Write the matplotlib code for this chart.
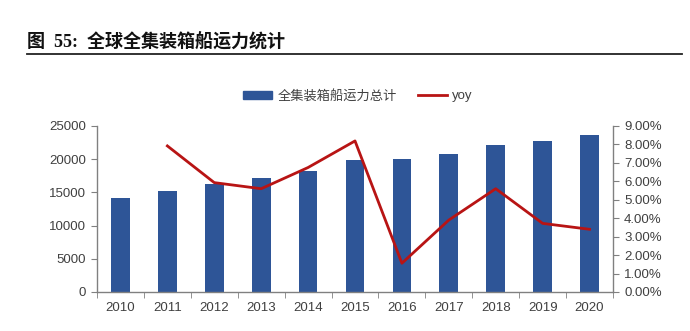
import matplotlib.pyplot as plt
from matplotlib.ticker import FuncFormatter, MultipleLocator
from matplotlib.lines import Line2D
from matplotlib.patches import Patch

# 数据
years = ['2010', '2011', '2012', '2013', '2014', '2015', '2016', '2017', '2018', '2019', '2020']
capacity = [14100, 15250, 16250, 17100, 18250, 19830, 20080, 20830, 22080, 22800, 23700]
yoy = [None, 7.92, 5.93, 5.60, 6.75, 8.19, 1.56, 3.90, 5.60, 3.72, 3.40]

bar_color = '#2E5597'
line_color = '#B81414'
txt_color = '#404040'
spine_color = '#808080'

plt.rcParams['font.family'] = ['Liberation Sans', 'Noto Sans CJK SC']

fig = plt.figure(figsize=(6.9, 3.31), dpi=100)
ax = fig.add_axes([97 / 690, 39 / 331, 516 / 690, 166 / 331])
ax2 = ax.twinx()

x = list(range(len(years)))
ax.bar(x, capacity, width=0.4, color=bar_color, zorder=2)
ax.set_xlim(-0.5, len(years) - 0.5)
ax.set_ylim(0, 25000)
ax.yaxis.set_major_locator(MultipleLocator(5000))

xs = [i for i, v in zip(x, yoy) if v is not None]
ys = [v for v in yoy if v is not None]
ax2.plot(xs, ys, color=line_color, lw=2.0, zorder=3)
ax2.set_ylim(0, 9)
ax2.yaxis.set_major_locator(MultipleLocator(1))
ax2.yaxis.set_major_formatter(FuncFormatter(lambda v, p: f'{v:.2f}%'))

ax.set_xticks(x)
ax.set_xticklabels(years)
ax.set_xticks([i - 0.5 for i in range(len(years) + 1)], minor=True)
ax.tick_params(axis='x', which='major', length=0, pad=7)
ax.tick_params(axis='x', which='minor', length=4, color=spine_color)

for a in (ax, ax2):
    for s in a.spines.values():
        s.set_visible(False)
    a.tick_params(axis='both', labelsize=9.5, labelcolor=txt_color, color=spine_color)
ax.spines['left'].set_visible(True)
ax.spines['bottom'].set_visible(True)
ax2.spines['right'].set_visible(True)
for s in (ax.spines['left'], ax.spines['bottom'], ax2.spines['right']):
    s.set_color(spine_color)
    s.set_linewidth(1)
ax.tick_params(axis='y', length=4, pad=4)
ax2.tick_params(axis='y', length=4, pad=4)

handles = [Patch(color=bar_color), Line2D([0], [0], color=line_color, lw=2)]
fig.legend(handles, ['全集装箱船运力总计', 'yoy'], loc='center', bbox_to_anchor=(358 / 690, 1 - 96 / 331),
           ncol=2, frameon=False, fontsize=9.5, handlelength=2.2, handleheight=0.5,
           columnspacing=1.6, handletextpad=0.4, labelcolor=txt_color)

# 标题
fig.text(27 / 690, 1 - 42 / 331, '图  55:  全球全集装箱船运力统计', fontsize=13, fontweight='bold',
         family=['Liberation Serif', 'Noto Sans CJK SC'], va='center', ha='left', color='#111111')
fig.add_artist(Line2D([27 / 690, 682 / 690], [1 - 54 / 331, 1 - 54 / 331], color='#222222', lw=1.3))

fig.savefig('out.png', dpi=100)
